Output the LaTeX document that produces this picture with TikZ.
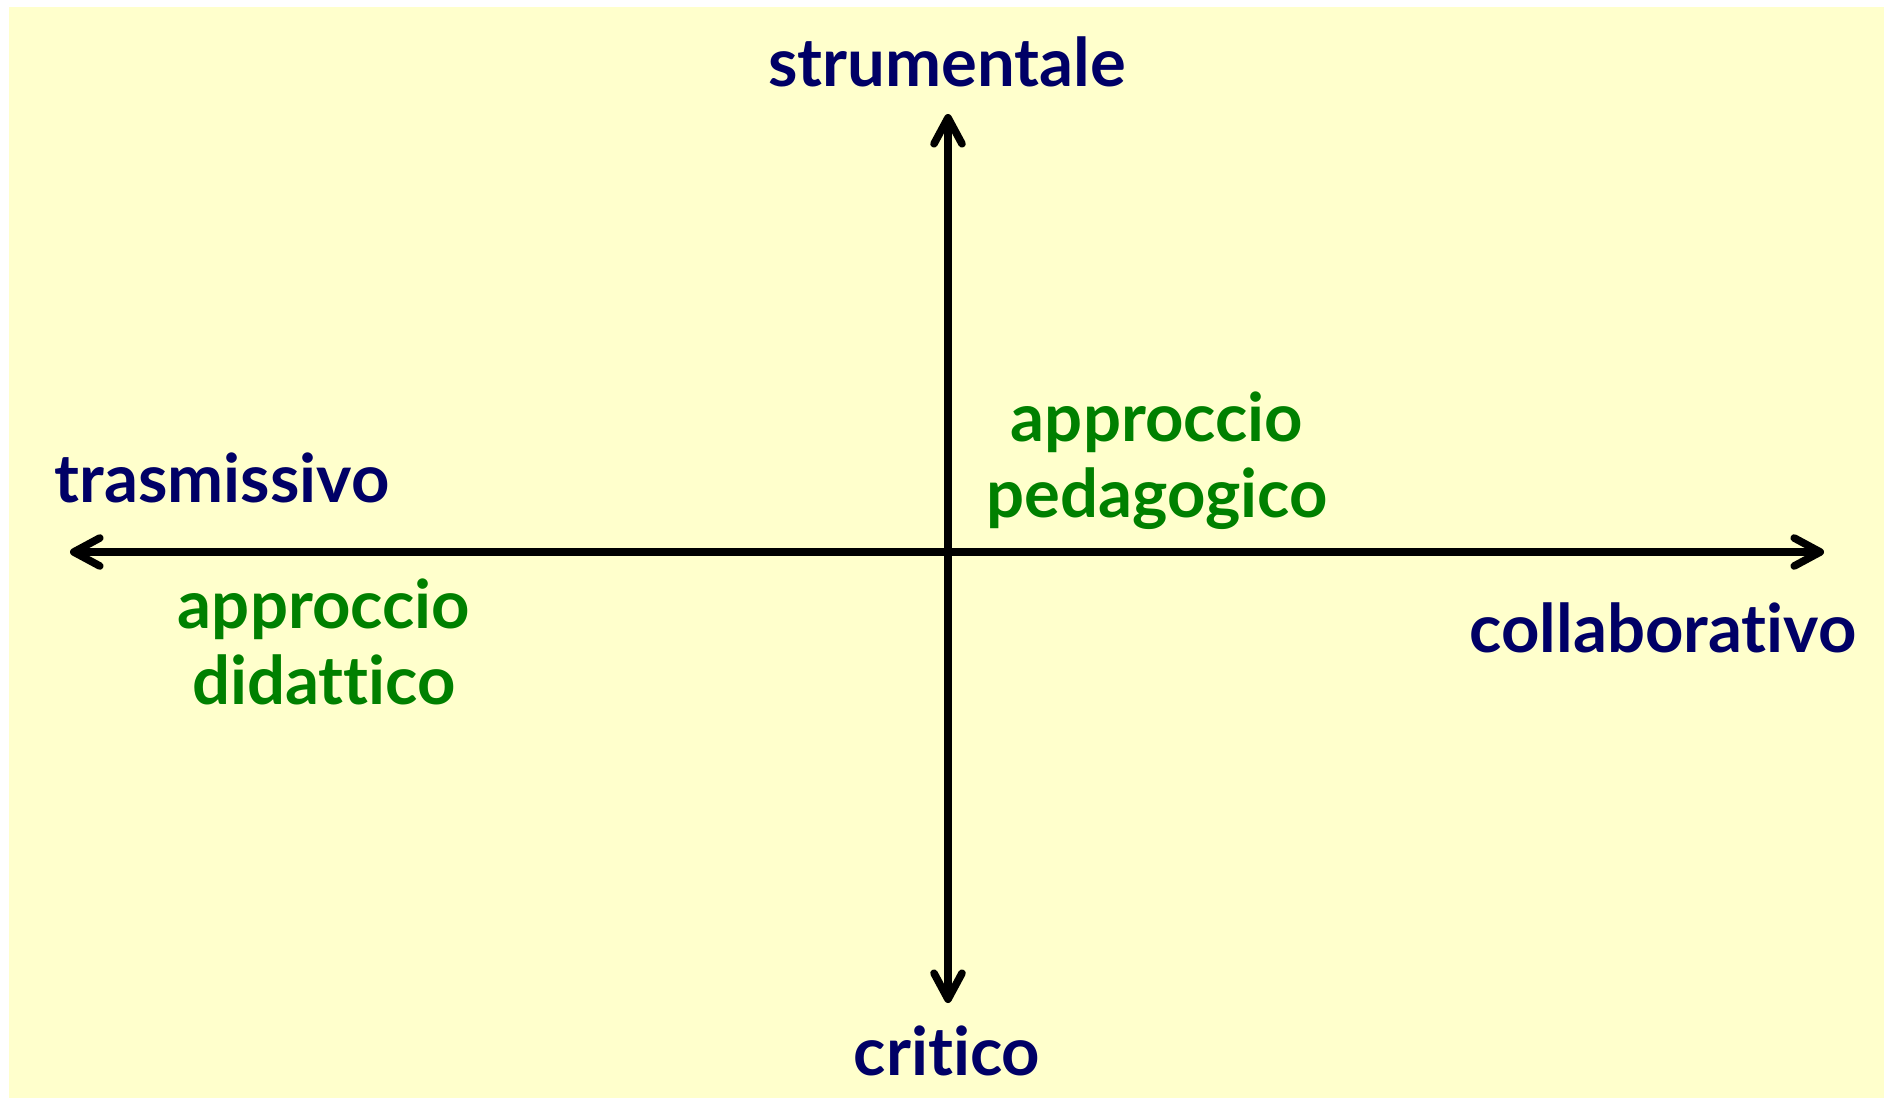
\documentclass[tikz,border=0pt]{standalone}
\usepackage{fontspec}
\setmainfont{Lato}[Ligatures=NoCommon]
\usetikzlibrary{arrows.meta}
\definecolor{bgyellow}{HTML}{FFFFCC}
\definecolor{navy}{HTML}{000066}
\definecolor{leafgreen}{HTML}{008000}
\tikzset{
  barb/.tip={Straight Barb[length=13pt,width=14pt,line width=3.8pt,line cap=round,line join=round]},
  axis/.style={line width=3.8pt, line cap=round, draw=black, barb-barb},
  pole/.style={font=\fontsize{33.5}{38}\selectfont\bfseries, text=navy, inner sep=0pt, anchor=base},
  approach/.style={font=\fontsize{33.5}{38}\selectfont\bfseries, text=leafgreen, inner sep=0pt, align=center, anchor=center}
}
\begin{document}
\begin{tikzpicture}[x=0.5pt,y=-0.5pt]
\useasboundingbox (0,0) rectangle (1884,1098);
\fill[white] (0,0) rectangle (1884,1098);
\fill[bgyellow] (9,7) rectangle (1884,1098);
\coordinate (top) at (948,114);
\coordinate (bottom) at (948,1003);
\coordinate (left) at (70,552);
\coordinate (right) at (1824,552);
\draw[axis] (bottom) -- (top);
\draw[axis] (left) -- (right);
\node[pole] (strum) at (947,86) {strumentale};
\node[pole] (crit) at (947,1075) {critico};
\node[pole] (trasm) at (222,502) {trasmissivo};
\node[pole] (collab) at (1663,652) {collaborativo};
\node[approach] (ped) at (1157,461) {approccio\\pedagogico};
\node[approach] (did) at (324,642) {approccio\\didattico};
\end{tikzpicture}
\end{document}
